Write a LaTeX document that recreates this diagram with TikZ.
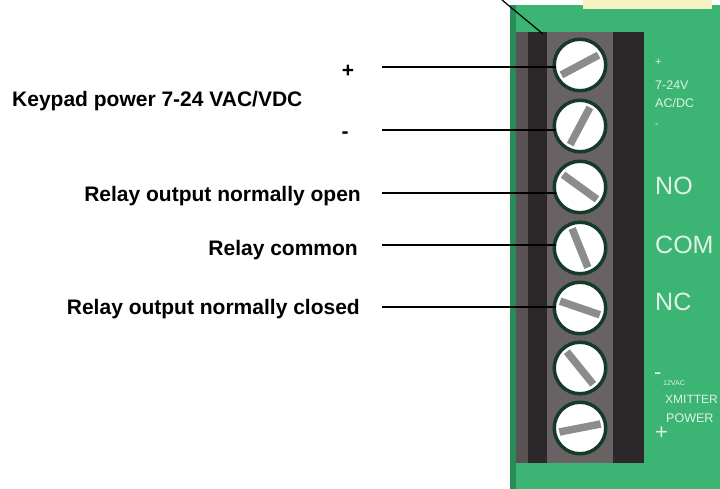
\documentclass[tikz,border=0pt]{standalone}
\usepackage{fontspec}
\setmainfont{Liberation Sans}
\usetikzlibrary{positioning}

\definecolor{board}{RGB}{60,180,116}
\definecolor{boardedge}{RGB}{40,140,88}
\definecolor{paleyellow}{RGB}{246,242,196}
\definecolor{blockside}{RGB}{88,82,84}
\definecolor{blockdark}{RGB}{44,40,41}
\definecolor{blockmid}{RGB}{104,98,100}
\definecolor{ringgreen}{RGB}{22,58,40}
\definecolor{slotgray}{RGB}{140,140,140}
\definecolor{silkwhite}{RGB}{222,243,230}

\begin{document}
\begin{tikzpicture}[x=1pt,y=-1pt,
    screw/.style={circle,draw=ringgreen,line width=3.5pt,fill=white,
      minimum size=51.5pt,inner sep=0pt},
    slot/.style={draw=slotgray,line width=7.5pt},
    leader/.style={draw=black,line width=1.4pt},
    lbl/.style={font=\fontsize{21}{25}\selectfont\bfseries,inner sep=0pt},
    silk/.style={text=silkwhite,inner sep=0pt,anchor=base west}]
    \useasboundingbox (0,0) rectangle (720,489);
    \clip (0,0) rectangle (720,489);

    % board
    \fill[board] (510,5) rectangle (720,489);
    \fill[boardedge] (510,5) rectangle (516,489);
    \fill[paleyellow] (583,0) rectangle (712,9);

    % terminal block
    \fill[blockside] (516,32) rectangle (528,463);
    \fill[blockdark] (528,32) rectangle (547,463);
    \fill[blockmid] (547,32) rectangle (613,463);
    \fill[blockdark] (613,32) rectangle (644,463);

    % screws
    \foreach \i/\y/\a in {1/65/28,2/126/62,3/187/-36,4/248/-68,5/308/-19,6/368/-51,7/428/11} {
      \node[screw] (s\i) at (580,\y) {};
      \draw[slot] ([shift={(\a:-21pt)}]s\i.center) -- ([shift={(\a:21pt)}]s\i.center);
    }

    % board print
    \node[silk,font=\fontsize{11}{13}\selectfont] (bp1) at (655,66) {+};
    \node[silk,font=\fontsize{12.5}{14}\selectfont] (bv) at (655,90) {7-24V};
    \node[silk,font=\fontsize{12.5}{14}\selectfont] (bac) at (655,108) {AC/DC};
    \node[silk,font=\fontsize{11}{13}\selectfont] (bm1) at (655,128) {-};
    \node[silk,font=\fontsize{25}{28}\selectfont] (bno) at (655,195) {NO};
    \node[silk,font=\fontsize{25}{28}\selectfont] (bcom) at (655,253) {COM};
    \node[silk,font=\fontsize{25}{28}\selectfont] (bnc) at (655,310) {NC};
    \node[silk,font=\fontsize{22}{24}\selectfont] (bm2) at (654,379) {-};
    \node[silk,font=\fontsize{7}{8}\selectfont] (bvac) at (663,385) {12VAC};
    \node[silk,font=\fontsize{12}{14}\selectfont] (bx) at (665,403) {XMITTER};
    \node[silk,font=\fontsize{12.5}{15}\selectfont] (bpw) at (666,422) {POWER};
    \node[silk,font=\fontsize{22}{24}\selectfont] (bp2) at (655,439) {+};

    % labels
    \node[lbl,anchor=base west] (keypad) at (12,107) {Keypad power 7-24 VAC/VDC};
    \node[lbl,anchor=base] (plus) at (348,78) {+};
    \node[lbl,anchor=base] (minus) at (345,139) {-};
    \node[lbl,anchor=base east] (no) at (361,202) {Relay output normally open};
    \node[lbl,anchor=base east] (com) at (358,255) {Relay common};
    \node[lbl,anchor=base east] (nc) at (360,314) {Relay output normally closed};

    % leader lines
    \foreach \i/\y in {1/67,2/130,3/193,4/245,5/307} {
      \coordinate (l\i) at (382,\y);
      \draw[leader,shorten >=-3.5pt] (l\i) -- (l\i -| s\i.west);
    }
    \coordinate (tipa) at (502,0);
    \coordinate (tipb) at (543,34);
    \draw[leader,line width=1.2pt] (tipa) -- (tipb);

\end{tikzpicture}
\end{document}
